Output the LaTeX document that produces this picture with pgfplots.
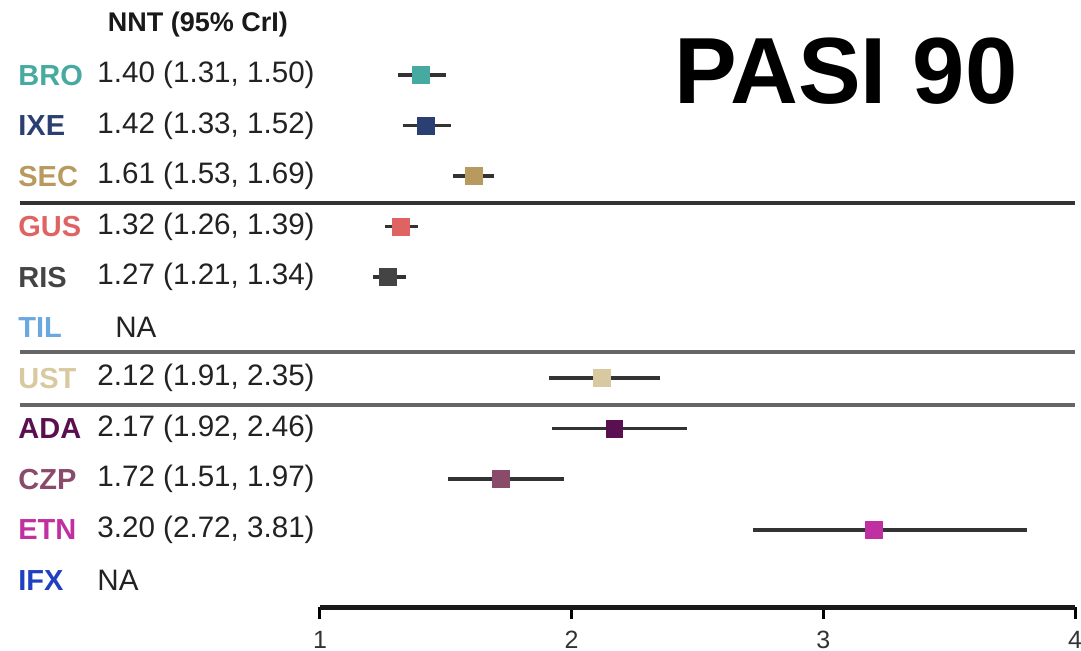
\documentclass[border=0pt]{standalone}
\usepackage{pgfplots}
\pgfplotsset{compat=1.18}
\usepackage{fontspec}
\setmainfont{Liberation Sans}
\definecolor{cBRO}{HTML}{47AAA0}
\definecolor{cIXE}{HTML}{2B3F73}
\definecolor{cSEC}{HTML}{B89A5E}
\definecolor{cGUS}{HTML}{E06363}
\definecolor{cRIS}{HTML}{444444}
\definecolor{cTIL}{HTML}{6CA8E0}
\definecolor{cUST}{HTML}{D9C9A0}
\definecolor{cADA}{HTML}{5A1050}
\definecolor{cCZP}{HTML}{8A4A6A}
\definecolor{cETN}{HTML}{C030A0}
\definecolor{cIFX}{HTML}{2040C0}
\definecolor{txt}{HTML}{222222}
\begin{document}
\begin{tikzpicture}
\useasboundingbox (-160pt,-22pt) rectangle (380.5pt,303.5pt);
\begin{axis}[
  scale only axis, width=377.5pt, height=278.6pt,
  at={(0,0)}, anchor=south west,
  xmin=1, xmax=4, ymin=0.5, ymax=11.53, y dir=reverse,
  axis x line*=bottom, hide y axis,
  axis line style={line width=2.5pt, black!90, -},
  xtick={1,2,3,4}, xticklabels={1,2,3,4},
  tick style={line width=1.5pt, black},
  major tick length=6pt, tick align=outside,
  xticklabel style={font=\fontsize{12.5}{13}\selectfont, text=black!80, yshift=-2.5pt},
  clip=false,
  every axis plot/.append style={only marks, mark=square*, mark size=4.2pt,
    error bars/x dir=both, error bars/x explicit, error bars/error mark=none,
    error bars/error bar style={line width=1.8pt, black!80}},
]
\addplot[cBRO] coordinates {(1.40,1) -= (0.09,0) += (0.10,0)};
\addplot[cIXE] coordinates {(1.42,2) -= (0.09,0) += (0.10,0)};
\addplot[cSEC] coordinates {(1.61,3) -= (0.08,0) += (0.08,0)};
\addplot[cGUS] coordinates {(1.32,4) -= (0.06,0) += (0.07,0)};
\addplot[cRIS] coordinates {(1.27,5) -= (0.06,0) += (0.07,0)};
\addplot[cUST] coordinates {(2.12,7) -= (0.21,0) += (0.23,0)};
\addplot[cADA] coordinates {(2.17,8) -= (0.25,0) += (0.29,0)};
\addplot[cCZP] coordinates {(1.72,9) -= (0.21,0) += (0.25,0)};
\addplot[cETN] coordinates {(3.20,10) -= (0.48,0) += (0.61,0)};

\draw[line width=2pt, black!80] (axis cs:-0.192,3.535) -- (axis cs:4,3.535);
\draw[line width=2pt, black!60] (axis cs:-0.192,6.485) -- (axis cs:4,6.485);
\draw[line width=2pt, black!60] (axis cs:-0.192,7.535) -- (axis cs:4,7.535);

\node[font=\bfseries\fontsize{13.5}{15}\selectfont, text=black!90] at (axis cs:0.515,0.0) {NNT (95\% CrI)};
\node[font=\bfseries\fontsize{47}{50}\selectfont] at (axis cs:3.09,0.92) {PASI 90};

\begin{scope}[every node/.style={anchor=west, inner sep=0pt, font=\fontsize{14.8}{16}\selectfont}]
\begin{scope}[every node/.append style={font=\bfseries\fontsize{14.5}{16}\selectfont}]
\node[text=cBRO] at (axis cs:-0.200,1) {BRO};
\node[text=cIXE] at (axis cs:-0.200,2) {IXE};
\node[text=cSEC] at (axis cs:-0.200,3) {SEC};
\node[text=cGUS] at (axis cs:-0.200,4) {GUS};
\node[text=cRIS] at (axis cs:-0.200,5) {RIS};
\node[text=cTIL] at (axis cs:-0.200,6) {TIL};
\node[text=cUST] at (axis cs:-0.200,7) {UST};
\node[text=cADA] at (axis cs:-0.200,8) {ADA};
\node[text=cCZP] at (axis cs:-0.200,9) {CZP};
\node[text=cETN] at (axis cs:-0.200,10) {ETN};
\node[text=cIFX] at (axis cs:-0.200,11) {IFX};
\end{scope}
\node[text=txt] at (axis cs:0.114,1) {1.40 (1.31, 1.50)};
\node[text=txt] at (axis cs:0.114,2) {1.42 (1.33, 1.52)};
\node[text=txt] at (axis cs:0.114,3) {1.61 (1.53, 1.69)};
\node[text=txt] at (axis cs:0.114,4) {1.32 (1.26, 1.39)};
\node[text=txt] at (axis cs:0.114,5) {1.27 (1.21, 1.34)};
\node[text=txt] at (axis cs:0.185,6) {NA};
\node[text=txt] at (axis cs:0.114,7) {2.12 (1.91, 2.35)};
\node[text=txt] at (axis cs:0.114,8) {2.17 (1.92, 2.46)};
\node[text=txt] at (axis cs:0.114,9) {1.72 (1.51, 1.97)};
\node[text=txt] at (axis cs:0.114,10) {3.20 (2.72, 3.81)};
\node[text=txt] at (axis cs:0.114,11) {NA};
\end{scope}
\end{axis}
\end{tikzpicture}
\end{document}
